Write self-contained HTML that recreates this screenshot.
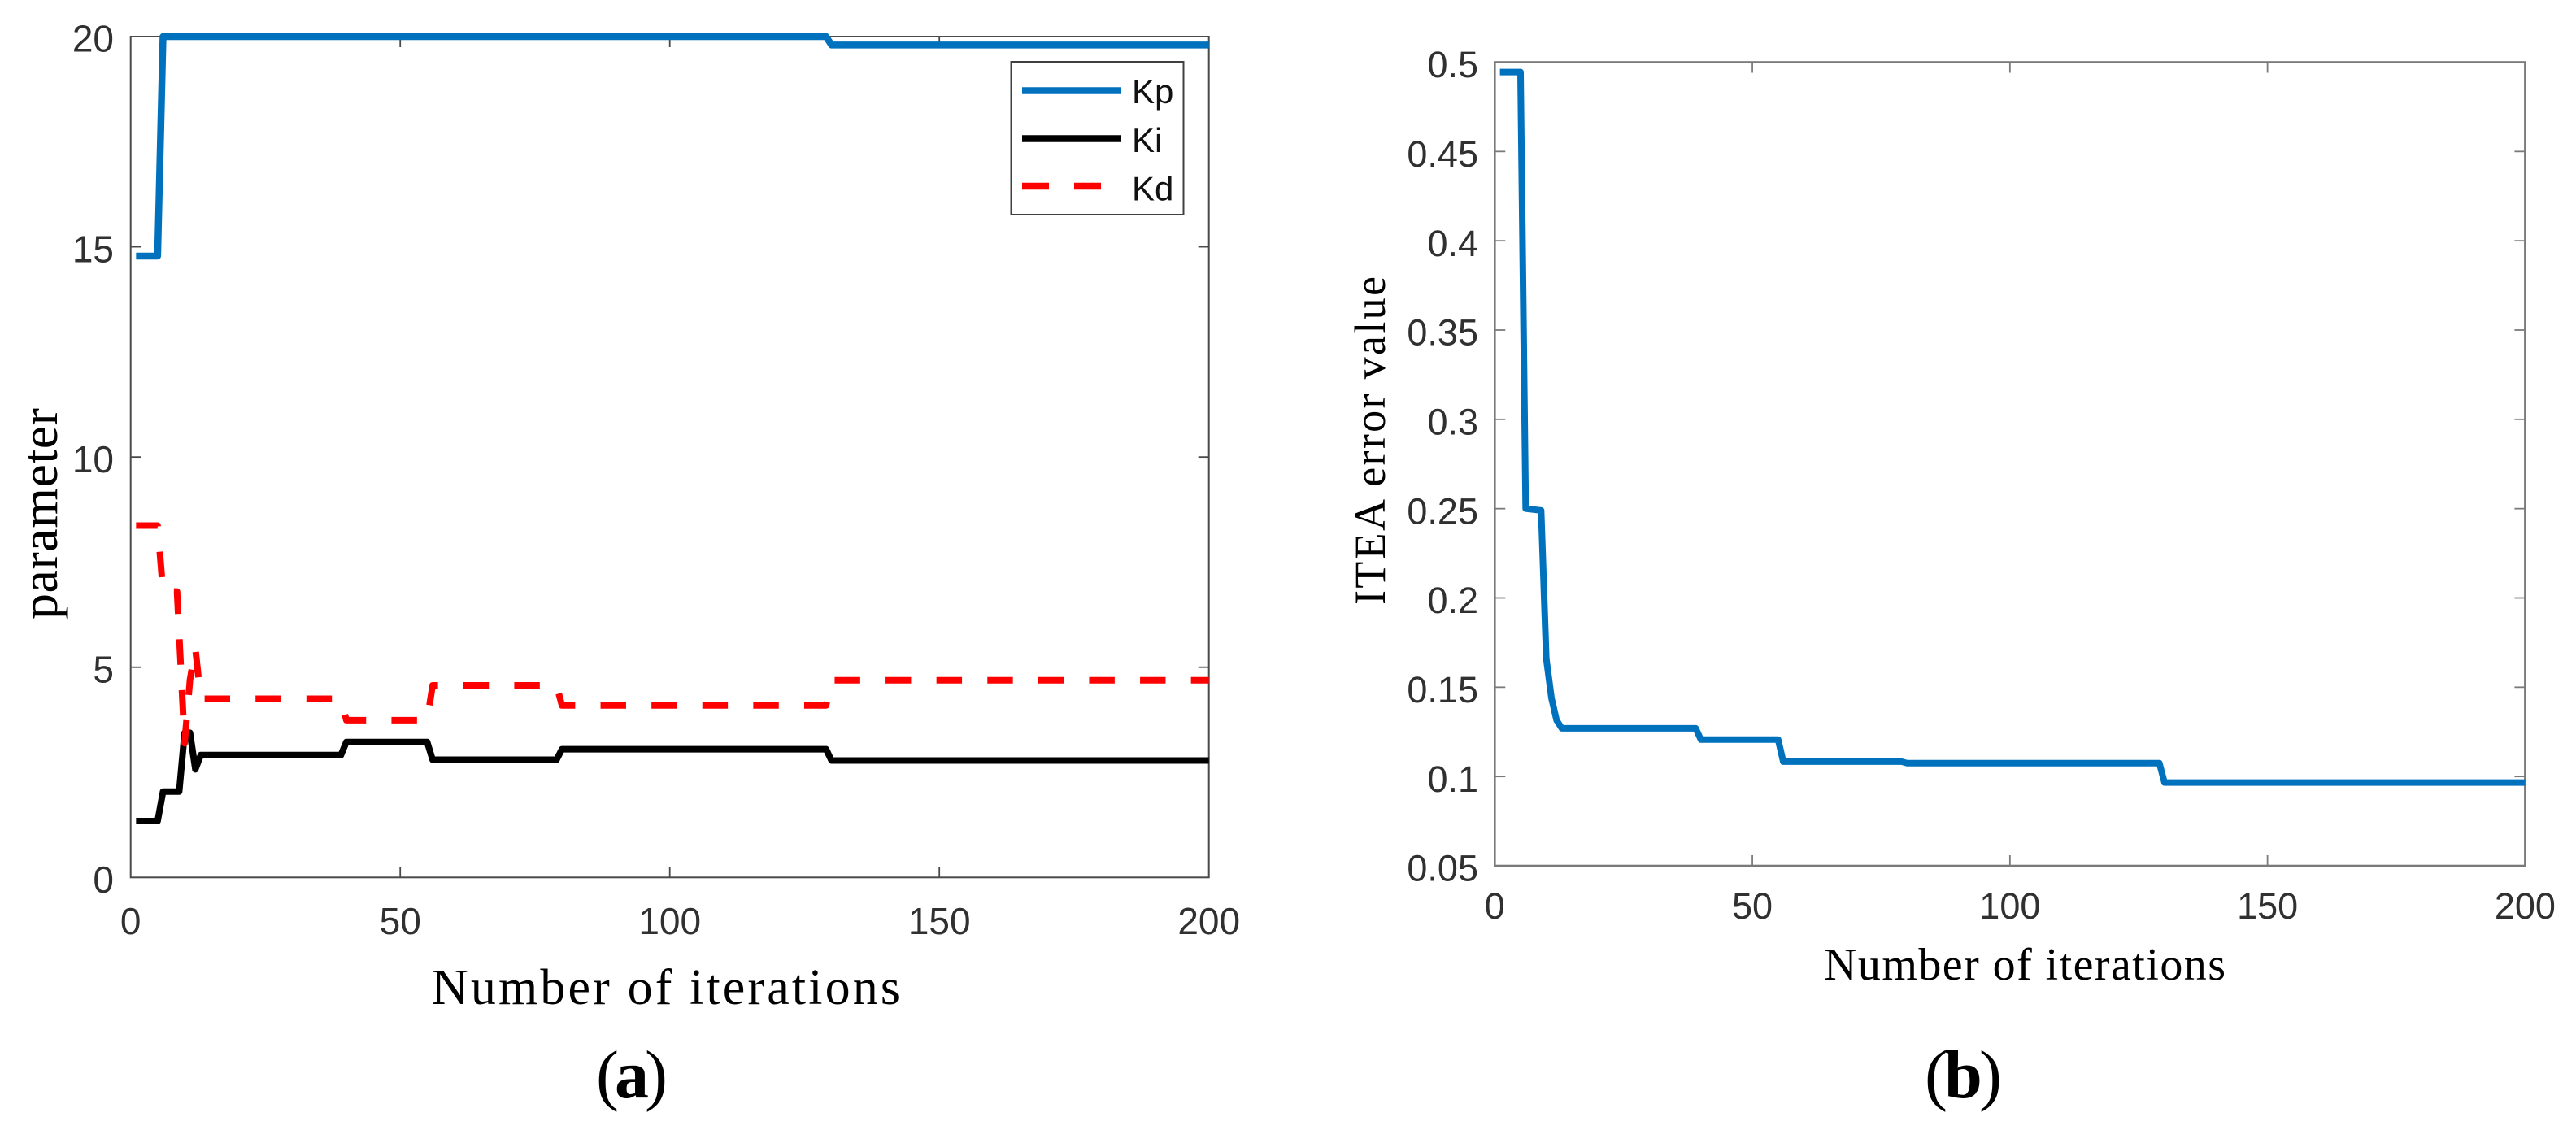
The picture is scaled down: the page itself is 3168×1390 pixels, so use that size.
<!DOCTYPE html>
<html>
<head>
<meta charset="utf-8">
<title>PID parameter and ITEA error convergence</title>
<style>
html,body{margin:0;padding:0;background:#fff;}
body{width:3168px;height:1390px;overflow:hidden;}
svg{display:block;}
.tick-label{font-family:"Liberation Sans",Arial,sans-serif;fill:#303030;}
.serif{font-family:"Liberation Serif","Times New Roman",serif;fill:#000;}
</style>
</head>
<body>
<svg id="figure" xmlns="http://www.w3.org/2000/svg" width="3168" height="1390" viewBox="0 0 3168 1390">
  <rect x="0" y="0" width="3168" height="1390" fill="#ffffff"/>
  <g id="panelA"></g>
  <g id="panelB"></g>

  <text class="serif" x="531" y="1235" font-size="62" textLength="576" lengthAdjust="spacing">Number of iterations</text>
  <text class="serif" transform="translate(70,762) rotate(-90)" x="0" y="0" font-size="64" textLength="260" lengthAdjust="spacing">parameter</text>
  <text class="serif" x="733" y="1350" font-size="84" textLength="88" lengthAdjust="spacing">(<tspan font-weight="bold">a</tspan>)</text>

  <text class="serif" x="2243" y="1205" font-size="56" textLength="494" lengthAdjust="spacing">Number of iterations</text>
  <text class="serif" transform="translate(1703,744) rotate(-90)" x="0" y="0" font-size="54" textLength="404" lengthAdjust="spacing">ITEA error value</text>
  <text class="serif" x="2367" y="1350" font-size="84" textLength="95" lengthAdjust="spacing">(<tspan font-weight="bold">b</tspan>)</text>

  <g>
    <rect x="1243.5" y="76" width="212" height="188" fill="#ffffff" stroke="#404040" stroke-width="2"/>
    <line x1="1257" x2="1379" y1="111.5" y2="111.5" stroke="#0072BD" stroke-width="8.5"/>
    <text x="1392" y="127" font-size="42" font-family="Liberation Sans, sans-serif" fill="#111">Kp</text>
    <line x1="1257" x2="1379" y1="170.5" y2="170.5" stroke="#000000" stroke-width="8.5"/>
    <text x="1392" y="187" font-size="42" font-family="Liberation Sans, sans-serif" fill="#111">Ki</text>
    <line x1="1257" x2="1379" y1="229" y2="229" stroke="#FF0000" stroke-width="8.5" stroke-dasharray="33 31"/>
    <text x="1392" y="246.5" font-size="42" font-family="Liberation Sans, sans-serif" fill="#111">Kd</text>
  </g>
</svg>

<script>
// ---- chart data ----
const xTicks = [0, 50, 100, 150, 200];

const aYTicks = [0, 5, 10, 15, 20];
const aYTickLabels = ['0', '5', '10', '15', '20'];

const kpIter = [1, 5, 6, 129, 130, 200];
const kpVal = [14.78, 14.78, 20, 20, 19.8, 19.8];

const kiIter = [1, 5, 6, 9, 10, 11, 12, 13, 39, 40, 55, 56, 79, 80, 129, 130, 200];
const kiVal = [1.34, 1.34, 2.04, 2.04, 3.44, 3.44, 2.57, 2.91, 2.91, 3.22, 3.22, 2.80, 2.80, 3.05, 3.05, 2.78, 2.78];

const kdIter = [1, 5, 6, 8.6, 10, 11, 12, 13, 39, 40, 55, 56, 79, 80, 129, 130, 200];
const kdVal = [8.37, 8.37, 6.8, 6.8, 3.19, 4.7, 5.45, 4.25, 4.25, 3.74, 3.74, 4.57, 4.57, 4.09, 4.09, 4.69, 4.69];

const bYTicks = [0.05, 0.1, 0.15, 0.2, 0.25, 0.3, 0.35, 0.4, 0.45, 0.5];
const bYTickLabels = ['0.05', '0.1', '0.15', '0.2', '0.25', '0.3', '0.35', '0.4', '0.45', '0.5'];

const iteaIter = [1, 5, 6, 9, 10, 11, 12, 13, 39, 40, 55, 56, 79, 80, 129, 130, 200];
const iteaVal = [0.4945, 0.4945, 0.25, 0.249, 0.166, 0.144, 0.1315, 0.127, 0.127, 0.1207, 0.1207, 0.1083, 0.1083, 0.1075, 0.1075, 0.0966, 0.0966];

// ---- helpers ----
const SVGNS = 'http://www.w3.org/2000/svg';
function make(tag, parent, props) {
  const el = document.createElementNS(SVGNS, tag);
  for (const k in props) el.setAttribute(k, props[k]);
  parent.appendChild(el);
  return el;
}
function scale(d0, d1, r0, r1) {
  return v => r0 + (v - d0) * (r1 - r0) / (d1 - d0);
}
function pathFrom(iters, vals, xf, yf) {
  return iters.map((it, i) => (i ? 'L' : 'M') + xf(it).toFixed(2) + ' ' + yf(vals[i]).toFixed(2)).join(' ');
}

function drawAxes(group, box, xf, yf, yTicks, yLabels, style) {
  const frame = make('rect', group, {x: box.l, y: box.t, width: box.r - box.l, height: box.b - box.t, fill: 'none', stroke: style.color, 'stroke-width': style.width});
  
  

  xTicks.forEach(v => {
    const x = xf(v);
    if (v !== xTicks[0] && v !== xTicks[xTicks.length - 1]) {
      const tb = make('line', group, {x1: x, x2: x, y1: box.b, y2: box.b - 13, stroke: style.color, 'stroke-width': 1.8});
      
      
      const tt = make('line', group, {x1: x, x2: x, y1: box.t, y2: box.t + 13, stroke: style.color, 'stroke-width': 1.8});
      
      
    }
    const lab = make('text', group, {x: x, y: style.xLabelY, 'text-anchor': 'middle', 'font-size': style.font, class: 'tick-label'});
    lab.textContent = String(v);
    
    
  });

  yTicks.forEach((v, i) => {
    const y = yf(v);
    if (i !== 0 && i !== yTicks.length - 1) {
      const tl = make('line', group, {x1: box.l, x2: box.l + 13, y1: y, y2: y, stroke: style.color, 'stroke-width': 1.8});
      
      
      const tr = make('line', group, {x1: box.r, x2: box.r - 13, y1: y, y2: y, stroke: style.color, 'stroke-width': 1.8});
      
      
    }
    const lab = make('text', group, {x: style.yLabelX, y: y + 18.7, 'text-anchor': 'end', 'font-size': style.font, class: 'tick-label'});
    lab.textContent = yLabels[i];
    
    
  });
}

// ---- panel (a) ----
const boxA = {l: 160.7, r: 1486.7, t: 45, b: 1079.3};
const xA = scale(0, 200, boxA.l, boxA.r);
const yA = scale(0, 20, boxA.b, boxA.t);
const panelA = document.getElementById('panelA');
drawAxes(panelA, boxA, xA, yA, aYTicks, aYTickLabels, {color: '#4a4a4a', width: 2, font: 46, xLabelY: 1149, yLabelX: 140});

const kiLine = make('path', panelA, {d: pathFrom(kiIter, kiVal, xA, yA), fill: 'none', stroke: '#000000', 'stroke-width': 8, 'stroke-linejoin': 'round'});



const kdLine = make('path', panelA, {d: pathFrom(kdIter, kdVal, xA, yA), fill: 'none', stroke: '#FF0000', 'stroke-width': 8, 'stroke-linejoin': 'round', 'stroke-dasharray': '31.4 31.2', 'stroke-dashoffset': '3.8'});



const kpLine = make('path', panelA, {d: pathFrom(kpIter, kpVal, xA, yA), fill: 'none', stroke: '#0072BD', 'stroke-width': 8.5, 'stroke-linejoin': 'round'});



// ---- panel (b) ----
const boxB = {l: 1838.3, r: 3105.4, t: 76.5, b: 1065};
const xB = scale(0, 200, boxB.l, boxB.r);
const yB = scale(0.05, 0.5, boxB.b, boxB.t);
const panelB = document.getElementById('panelB');
drawAxes(panelB, boxB, xB, yB, bYTicks, bYTickLabels, {color: '#7a7a7a', width: 2.6, font: 45, xLabelY: 1130, yLabelX: 1818});

const iteaLine = make('path', panelB, {d: pathFrom(iteaIter, iteaVal, xB, yB), fill: 'none', stroke: '#0072BD', 'stroke-width': 8, 'stroke-linejoin': 'round'});


</script>
</body>
</html>
